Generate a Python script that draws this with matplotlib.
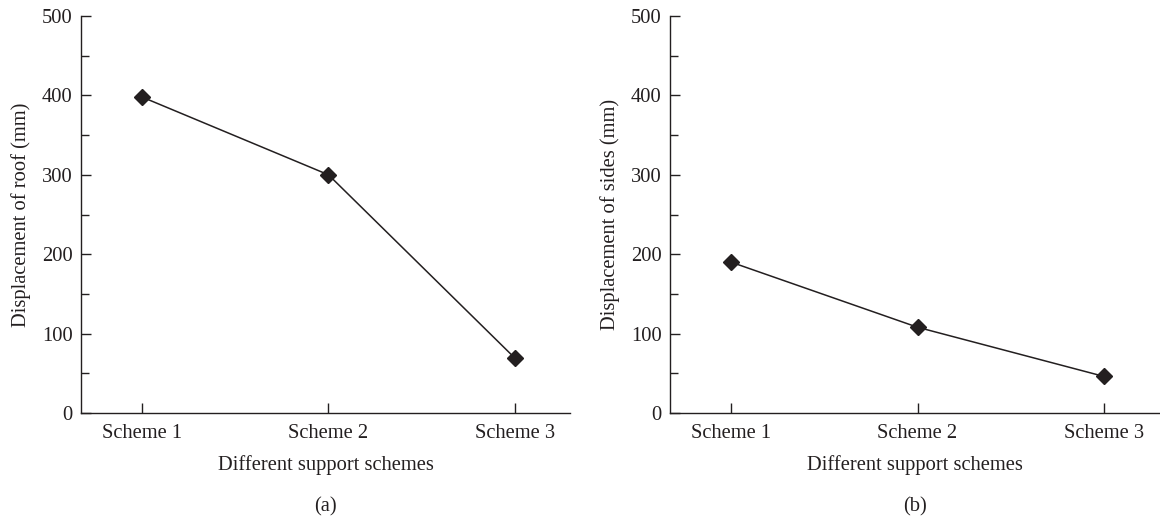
import matplotlib.pyplot as plt
from matplotlib.ticker import MultipleLocator

# Displacement results for the three support schemes
schemes = ["Scheme 1", "Scheme 2", "Scheme 3"]
roof_disp = [398, 300, 69]
sides_disp = [190, 108, 46]

plt.rcParams['font.family'] = ['Liberation Serif', 'DejaVu Serif']
plt.rcParams['font.size'] = 14.8

ink = '#231f20'

fig = plt.figure(figsize=(11.6, 5.17), dpi=100)
ax_a = fig.add_axes([0.0698, 0.2012, 0.4216, 0.7678])
ax_b = fig.add_axes([0.5776, 0.2012, 0.4216, 0.7678])

panels = [
    (ax_a, roof_disp, "Displacement of roof (mm)", "(a)"),
    (ax_b, sides_disp, "Displacement of sides (mm)", "(b)"),
]

for ax, values, ylabel, tag in panels:
    x = range(len(schemes))
    ax.plot(x, values, color=ink, linewidth=1.1, marker='D',
            markersize=8, markerfacecolor=ink, markeredgecolor=ink)

    ax.set_xlim(-0.327, 2.295)
    ax.set_ylim(0, 500)
    ax.set_xticks(list(x))
    ax.set_xticklabels(schemes)
    ax.yaxis.set_major_locator(MultipleLocator(100))
    ax.yaxis.set_minor_locator(MultipleLocator(50))

    for side in ('top', 'right'):
        ax.spines[side].set_visible(False)
    for side in ('left', 'bottom'):
        ax.spines[side].set_color(ink)
        ax.spines[side].set_linewidth(1.0)

    ax.tick_params(axis='both', which='major', direction='in', length=7,
                   width=1.0, color=ink, labelcolor=ink, pad=6)
    ax.tick_params(axis='x', which='major', pad=8)
    ax.tick_params(axis='y', which='minor', direction='in', length=5.5,
                   width=1.0, color=ink)

    ax.set_ylabel(ylabel, color=ink, labelpad=8)
    ax.set_xlabel("Different support schemes", color=ink, labelpad=9)
    ax.text(0.5, -0.236, tag, transform=ax.transAxes, ha='center',
            va='center', color=ink)

fig.savefig('out.png', dpi=100)
